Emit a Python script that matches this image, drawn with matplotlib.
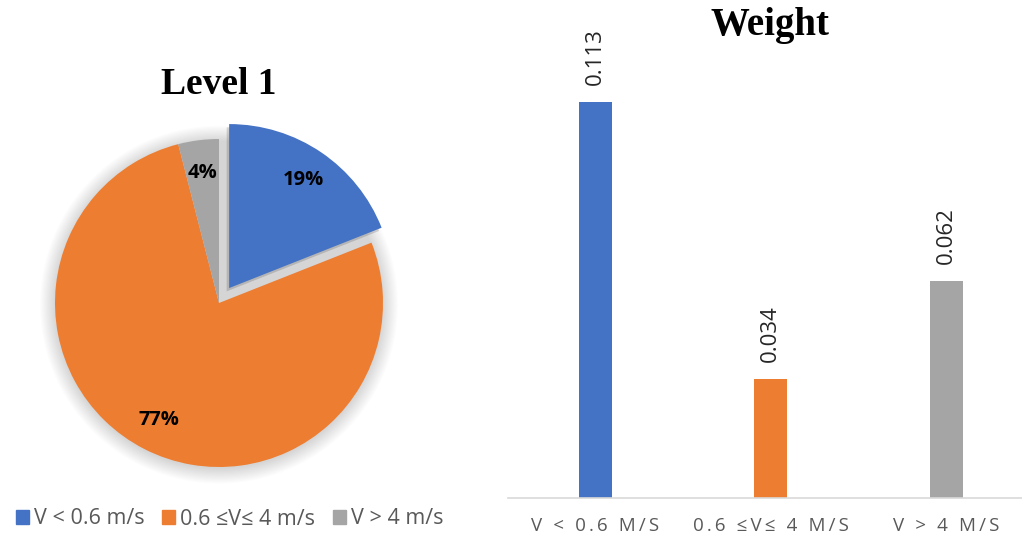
import numpy as np
import matplotlib.pyplot as plt
from matplotlib.patches import Circle, Wedge

# data
categories = ["V < 0.6 m/s", "0.6 \u2264V\u2264 4 m/s", "V > 4 m/s"]
level1_share = [19, 77, 4]
weights = [0.113, 0.034, 0.062]
colors = ["#4472C4", "#ED7D31", "#A5A5A5"]

plt.rcParams['font.family'] = ['Open Sans', 'DejaVu Sans']
text_gray = "#595959"

fig = plt.figure(figsize=(10.22, 5.37), dpi=100)

# ---- pie (left) ----
W, H = 1022, 537
cx, cy, r = 219, 303, 164
half = 1.2 * r
ax1 = fig.add_axes([(cx - half) / W, (H - cy - half) / H, 2 * half / W, 2 * half / H])

# soft shadow behind the pie
for i in range(14):
    ax1.add_patch(Circle((0.0, -0.01), 1.0 + 0.007 * i, color='k', alpha=0.012, lw=0, zorder=0))

wedges, texts, autotexts = ax1.pie(
    level1_share, colors=colors, startangle=90, counterclock=False,
    explode=[0.11, 0, 0], radius=1.0, autopct='%1.0f%%', pctdistance=0.8,
    wedgeprops=dict(linewidth=0), textprops=dict(fontsize=14.5, fontweight='bold', color='black'))
for w in wedges:
    w.set_zorder(2)
for t in autotexts:
    t.set_zorder(5)
ax1.set_xlim(-1.2, 1.2)
ax1.set_ylim(-1.2, 1.2)
ax1.set_aspect('equal')
ax1.axis('off')

# shadow of exploded slice
w0 = wedges[0]
sh = Wedge((w0.center[0] - 0.015, w0.center[1] - 0.02), 1.0, w0.theta1, w0.theta2,
           color='k', alpha=0.15, lw=0, zorder=1.5)
ax1.add_patch(sh)

fig.text(cx / W, 1 - 85 / H, "Level 1", ha='center', va='center',
         family='Liberation Serif', fontweight='bold', fontsize=27)

# legend
handles = [plt.Rectangle((0, 0), 1, 1, color=c) for c in colors]
fig.legend(handles, categories, loc='center left', bbox_to_anchor=(0.003, 1 - 519 / H),
           ncol=3, frameon=False, fontsize=15.5, labelcolor=text_gray,
           handlelength=0.6, handleheight=0.6, handletextpad=0.25, columnspacing=0.8,
           borderaxespad=0.2)

# ---- bar (right) ----
x = np.arange(len(weights))
x0_px, step_px = 595, 175.5
left_px, right_px = 508, 1022
base_px = 498
px_per_unit = (base_px - 102) / weights[0]
ax2 = fig.add_axes([left_px / W, (H - base_px) / H, (right_px - left_px) / W, base_px / H])
ax2.bar(x, weights, width=33 / step_px, color=colors)
ax2.set_xlim((left_px - x0_px) / step_px, (right_px - x0_px) / step_px)
ax2.set_ylim(0, base_px / px_per_unit)
for s in ['top', 'left', 'right']:
    ax2.spines[s].set_visible(False)
ax2.spines['bottom'].set_color('#D9D9D9')
ax2.spines['bottom'].set_linewidth(1.2)
ax2.set_yticks([])
ax2.tick_params(axis='x', length=0, pad=14)
ax2.set_xticks(x)
ax2.set_xticklabels(["\u2009".join(c.upper()) for c in categories],
                    fontsize=13.5, color=text_gray)
for xi, v in zip(x, weights):
    ax2.annotate(f"{v:.3f}", (xi, v), xytext=(0, 12), textcoords='offset points',
                 rotation=90, ha='center', va='bottom', fontsize=16, color='#262626')

fig.text(770 / W, 1 - 26 / H, "Weight", ha='center', va='center',
         family='Liberation Serif', fontweight='bold', fontsize=28)

fig.savefig('out.png', dpi=100)
